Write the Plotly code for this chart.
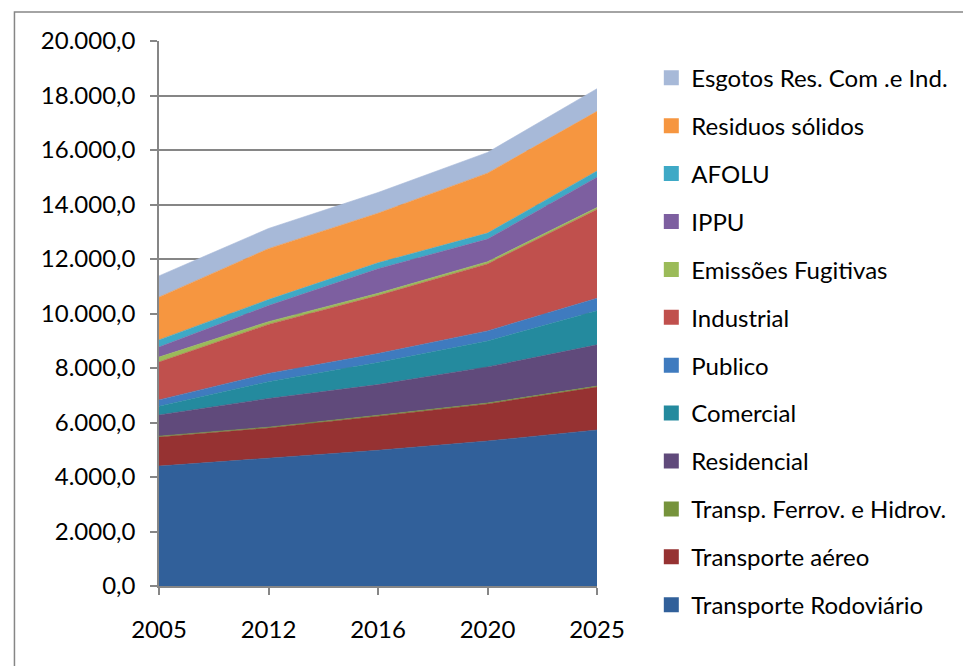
import plotly.graph_objects as go

# ── Data ────────────────────────────────────────────────────────────────────
years = ["2005", "2012", "2016", "2020", "2025"]

transporte_rodoviario = [4400, 4680, 4980, 5320, 5725]
transporte_aereo = [1070, 1120, 1250, 1360, 1575]
transp_ferrov_hidrov = [30, 30, 35, 35, 35]
residencial = [775, 1050, 1125, 1325, 1515]
comercial = [325, 620, 810, 950, 1250]
publico = [230, 300, 330, 370, 460]
industrial = [1390, 1800, 2130, 2460, 3260]
emissoes_fugitivas = [180, 100, 80, 80, 70]
ippu = [370, 590, 900, 830, 1110]
afolu = [260, 220, 220, 220, 230]
residuos_solidos = [1570, 1870, 1820, 2200, 2190]
esgotos = [780, 740, 760, 760, 830]

series = [
    ("Transporte Rodoviário", transporte_rodoviario, "#31609A"),
    ("Transporte aéreo", transporte_aereo, "#963232"),
    ("Transp. Ferrov. e Hidrov.", transp_ferrov_hidrov, "#76933C"),
    ("Residencial", residencial, "#604A7B"),
    ("Comercial", comercial, "#248A9E"),
    ("Publico", publico, "#3F7BBF"),
    ("Industrial", industrial, "#C0504D"),
    ("Emissões Fugitivas", emissoes_fugitivas, "#9BBB59"),
    ("IPPU", ippu, "#7D5FA0"),
    ("AFOLU", afolu, "#3EA9C6"),
    ("Residuos sólidos", residuos_solidos, "#F69640"),
    ("Esgotos Res. Com .e Ind.", esgotos, "#A7B9D8"),
]

FONT = "Lato, 'Open Sans', sans-serif"
GRID = "#868686"

fig = go.Figure()

# stacked areas, bottom to top
for name, values, color in series:
    fig.add_trace(
        go.Scatter(
            x=years,
            y=values,
            mode="lines",
            stackgroup="one",
            line=dict(width=0.6, color=color),
            fillcolor=color,
            name=name,
            showlegend=False,
            hoverinfo="skip",
        )
    )

# square legend markers, top series first (as in the original)
for i, (name, values, color) in enumerate(reversed(series)):
    fig.add_trace(
        go.Scatter(
            x=[None],
            y=[None],
            mode="markers",
            marker=dict(symbol="square", size=15, color=color),
            name=name,
            legendgroup=f"g{i}",
        )
    )

# outer chart border
fig.add_shape(
    type="rect",
    xref="paper",
    yref="paper",
    x0=-0.33,
    x1=1.9,
    y0=-0.2,
    y1=1.053,
    line=dict(color=GRID, width=1.5),
    fillcolor="rgba(0,0,0,0)",
    layer="below",
)

fig.update_xaxes(
    type="category",
    range=[0, 4],
    showgrid=False,
    showline=True,
    linecolor=GRID,
    linewidth=1.5,
    ticks="outside",
    ticklen=7,
    tickcolor=GRID,
    tickwidth=1.5,
    ticklabelstandoff=14,
    tickfont=dict(family=FONT, size=24, color="#000"),
)
fig.update_yaxes(
    range=[0, 20000],
    dtick=2000,
    tickformat=",.1f",
    showgrid=True,
    gridcolor=GRID,
    gridwidth=1.5,
    showline=True,
    linecolor=GRID,
    linewidth=1.5,
    ticks="outside",
    ticklen=7,
    tickcolor=GRID,
    tickwidth=1.5,
    ticklabelstandoff=10,
    zeroline=False,
    tickfont=dict(family=FONT, size=24, color="#000"),
)
# page body has an 8px margin, so the plot area is shifted up/left by 8px
fig.update_layout(
    width=971,
    height=666,
    margin=dict(l=151, r=382, t=33, b=88),
    paper_bgcolor="white",
    plot_bgcolor="white",
    separators=",.",
    showlegend=True,
    legend=dict(
        x=1.124,
        xanchor="left",
        y=0.973,
        yanchor="top",
        traceorder="grouped",
        tracegroupgap=13.7,
        maxheight=640,
        font=dict(family=FONT, size=24, color="#000"),
        bgcolor="rgba(0,0,0,0)",
    ),
)

fig.write_html("out.html")
